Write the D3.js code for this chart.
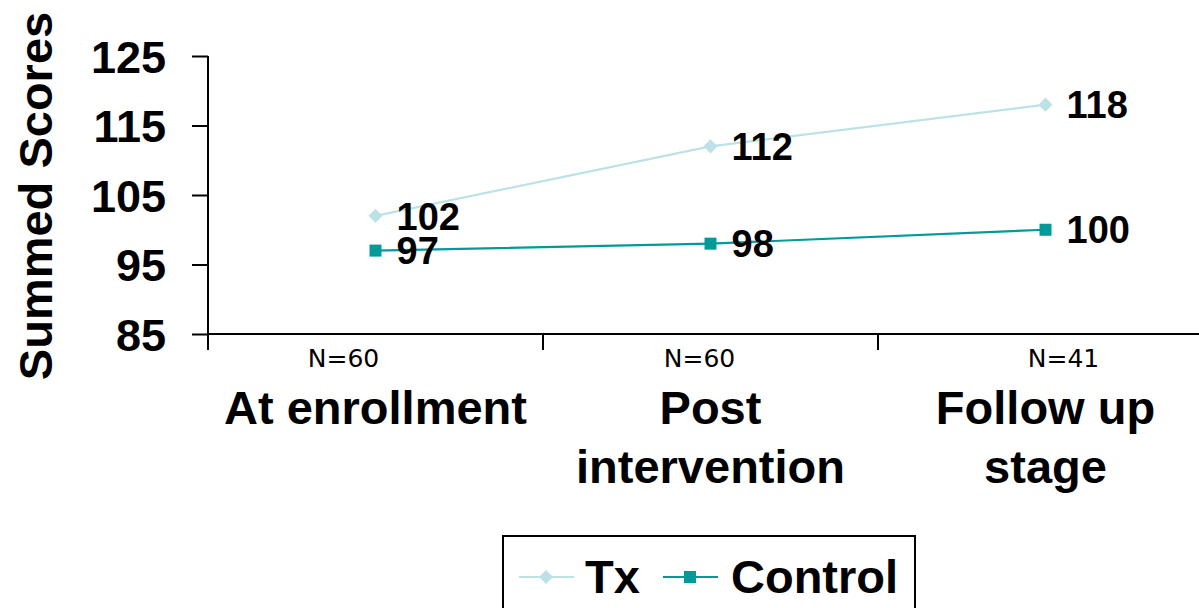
<!DOCTYPE html>
<html>
<head>
<meta charset="utf-8">
<script src="https://cdn.jsdelivr.net/npm/d3@7"></script>
<style>
  html, body { margin: 0; padding: 0; background: #fff; }
  svg { display: block; }
  text { font-family: "Liberation Sans", Arial, sans-serif; }
</style>
</head>
<body>
<svg id="chart" width="1199" height="608"></svg>
<script>
// ---- data ----
const categories = ["At enrollment", "Post intervention", "Follow up stage"];
const categoryLines = [["At enrollment"], ["Post", "intervention"], ["Follow up", "stage"]];
const sampleSizes = ["N=60", "N=60", "N=41"];
const txValues = [102, 112, 118];
const controlValues = [97, 98, 100];
const yTicks = [85, 95, 105, 115, 125];
const seriesNames = ["Tx", "Control"];

(function () {
// ---- layout ----
const svg = d3.select("#chart");
const pLeft = 208, pRight = 1213, pTop = 56, pBottom = 334;
const txColor = "#bde2e5";
const ctColor = "#009b99";

const x = d3.scaleBand().domain(categories).range([pLeft, pRight]).padding(0);
const y = d3.scaleLinear().domain([85, 125]).range([pBottom, pTop]);
const cx = d => x(d) + x.bandwidth() / 2;

// y axis
const yAxis = d3.axisLeft(y).tickValues(yTicks).tickSize(16).tickFormat(d3.format("d"));
const gy = svg.append("g").attr("transform", `translate(${pLeft},0)`).call(yAxis);
gy.select(".domain").remove();
gy.selectAll(".tick line").attr("stroke", "#000").attr("stroke-width", 2);
gy.selectAll(".tick text")
  .attr("x", -42).attr("dy", "0.36em")
  .attr("fill", "#000")
  .style("font-size", "45px").style("font-weight", "bold")
  .style("font-family", "'Liberation Sans', Arial, sans-serif");
svg.append("line").attr("x1", pLeft).attr("x2", pLeft).attr("y1", pTop).attr("y2", pBottom + 16)
  .attr("stroke", "#000").attr("stroke-width", 2);

// x axis
const boundaries = categories.map(c => x(c)).concat([x(categories[categories.length - 1]) + x.bandwidth()]);
svg.append("line").attr("x1", pLeft).attr("x2", 1199).attr("y1", pBottom).attr("y2", pBottom)
  .attr("stroke", "#000").attr("stroke-width", 2);
svg.selectAll(".xtick").data(boundaries.slice(1)).enter().append("line")
  .attr("x1", d => d).attr("x2", d => d).attr("y1", pBottom).attr("y2", pBottom + 16)
  .attr("stroke", "#000").attr("stroke-width", 2);

// N labels
const nOffsets = [-32, -11, 18];
svg.selectAll(".nlab").data(sampleSizes).enter().append("text")
  .attr("x", (d, i) => cx(categories[i]) + nOffsets[i])
  .attr("y", 367)
  .attr("text-anchor", "middle")
  .style("font-family", "'DejaVu Sans', Verdana, sans-serif")
  .style("font-size", "25px")
  .text(d => d);

// category labels
categories.forEach((c, i) => {
  const t = svg.append("text").attr("text-anchor", "middle")
    .style("font-size", "47px").style("font-weight", "bold");
  categoryLines[i].forEach((ln, j) => {
    t.append("tspan").attr("x", cx(c)).attr("y", 424 + j * 59).text(ln);
  });
});

// y title
svg.append("text")
  .attr("transform", "translate(52,196) rotate(-90)")
  .attr("text-anchor", "middle")
  .style("font-size", "47px").style("font-weight", "bold")
  .text("Summed Scores");

// lines
const line = d3.line().x((d, i) => cx(categories[i])).y(d => y(d));
svg.append("path").datum(txValues).attr("d", line)
  .attr("fill", "none").attr("stroke", txColor).attr("stroke-width", 2.2);
svg.append("path").datum(controlValues).attr("d", line)
  .attr("fill", "none").attr("stroke", ctColor).attr("stroke-width", 2.2);

// markers
const diamond = d3.symbol().type(d3.symbolSquare).size(100);
svg.selectAll(".txm").data(txValues).enter().append("path")
  .attr("d", diamond)
  .attr("transform", (d, i) => `translate(${cx(categories[i])},${y(d)}) rotate(45)`)
  .attr("fill", txColor);
svg.selectAll(".ctm").data(controlValues).enter().append("rect")
  .attr("x", (d, i) => cx(categories[i]) - 6)
  .attr("y", d => y(d) - 6)
  .attr("width", 12).attr("height", 12)
  .attr("fill", ctColor);

// data labels
const labelStyle = sel => sel.style("font-size", "38px").style("font-weight", "bold")
  .attr("dy", "0.36em").attr("fill", "#000");
svg.selectAll(".txl").data(txValues).enter().append("text")
  .attr("x", (d, i) => cx(categories[i]) + 21).attr("y", d => y(d))
  .call(labelStyle).text(d => d);
svg.selectAll(".ctl").data(controlValues).enter().append("text")
  .attr("x", (d, i) => cx(categories[i]) + 21).attr("y", d => y(d))
  .call(labelStyle).text(d => d);

// legend
const lg = svg.append("g");
lg.append("rect").attr("x", 503).attr("y", 536).attr("width", 412).attr("height", 90)
  .attr("fill", "#fff").attr("stroke", "#000").attr("stroke-width", 2);
const legY = 577;
lg.append("line").attr("x1", 519).attr("x2", 574).attr("y1", legY).attr("y2", legY)
  .attr("stroke", txColor).attr("stroke-width", 2.2);
lg.append("path").attr("d", diamond).attr("transform", `translate(546,${legY}) rotate(45)`).attr("fill", txColor);
lg.append("text").attr("x", 585).attr("y", 593)
  .style("font-size", "47px").style("font-weight", "bold").text(seriesNames[0]);
lg.append("line").attr("x1", 663).attr("x2", 718).attr("y1", legY).attr("y2", legY)
  .attr("stroke", ctColor).attr("stroke-width", 2.2);
lg.append("rect").attr("x", 684).attr("y", legY - 6).attr("width", 12).attr("height", 12).attr("fill", ctColor);
lg.append("text").attr("x", 731).attr("y", 593)
  .style("font-size", "47px").style("font-weight", "bold").text(seriesNames[1]);
})();
</script>
</body>
</html>
